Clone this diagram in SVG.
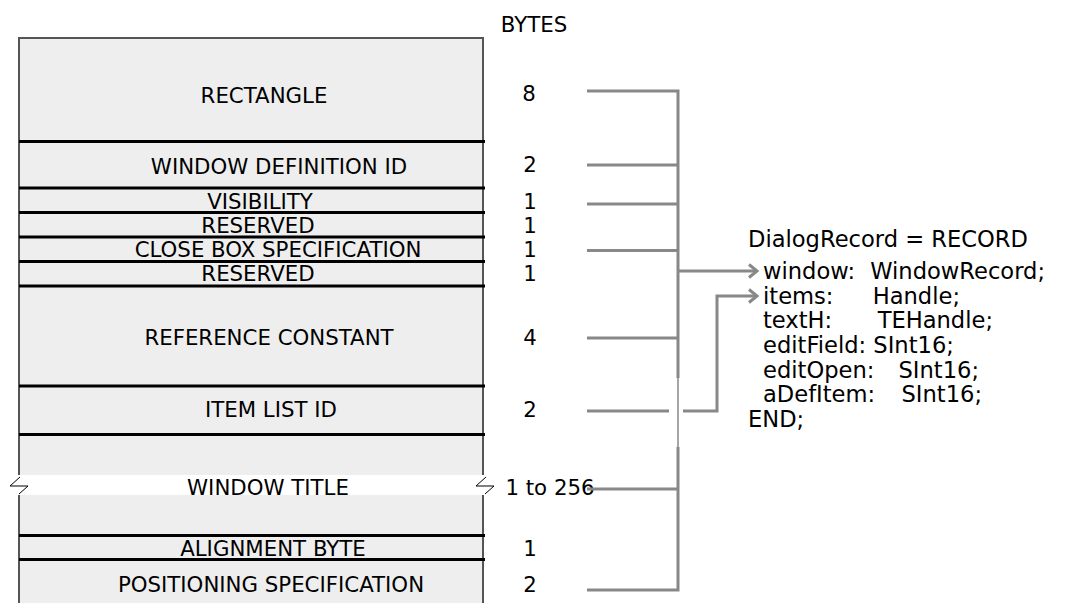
<svg xmlns="http://www.w3.org/2000/svg" width="1078" height="603" viewBox="0 0 1078 603">
<style>
text{font-family:"DejaVu Sans",sans-serif;fill:#000}
.f{font-size:21.3px;text-anchor:middle}
.n{font-size:21.3px;text-anchor:middle}
.c{font-size:22.6px}
.e{font-size:22.6px;text-anchor:end}
.sep{stroke:#000;stroke-width:3}
.con{stroke:#888;stroke-width:3;fill:none}
.brk{stroke:#000;stroke-width:1;fill:none}
</style>
<defs>
<marker id="ah" markerWidth="14" markerHeight="16" refX="11" refY="8" orient="auto" markerUnits="userSpaceOnUse">
<path d="M3,1.5 L11,8 L3,14.5" stroke="#888" stroke-width="3" fill="none"/>
</marker>
</defs>
<g id="record">
<rect x="19" y="38" width="464" height="580" fill="#eeeeee" stroke="#555" stroke-width="2"/>
<rect x="6" y="475" width="494" height="20" fill="#fff"/>
<path class="brk" d="M20,477 L10,486 L28,486 L19,494"/>
<path class="brk" d="M486,477 L476,486 L494,486 L485,494"/>
</g>
<g id="separators">
<line class="sep" x1="19" y1="141.5" x2="485" y2="141.5"/>
<line class="sep" x1="19" y1="188" x2="485" y2="188"/>
<line class="sep" x1="19" y1="212.5" x2="485" y2="212.5"/>
<line class="sep" x1="19" y1="237" x2="485" y2="237"/>
<line class="sep" x1="19" y1="261.5" x2="485" y2="261.5"/>
<line class="sep" x1="19" y1="286" x2="485" y2="286"/>
<line class="sep" x1="19" y1="386" x2="485" y2="386"/>
<line class="sep" x1="19" y1="434.5" x2="485" y2="434.5"/>
<line class="sep" x1="19" y1="535.5" x2="485" y2="535.5"/>
<line class="sep" x1="19" y1="559.5" x2="485" y2="559.5"/>
</g>
<g id="fields">
<text class="f" x="264" y="103">RECTANGLE</text>
<text class="f" x="279" y="174">WINDOW DEFINITION ID</text>
<text class="f" x="260" y="208.5">VISIBILITY</text>
<text class="f" x="258" y="233">RESERVED</text>
<text class="f" x="278" y="257">CLOSE BOX SPECIFICATION</text>
<text class="f" x="258" y="281">RESERVED</text>
<text class="f" x="269" y="345">REFERENCE CONSTANT</text>
<text class="f" x="271" y="417">ITEM LIST ID</text>
<text class="f" x="268" y="495">WINDOW TITLE</text>
<text class="f" x="273" y="556">ALIGNMENT BYTE</text>
<text class="f" x="271" y="592">POSITIONING SPECIFICATION</text>
</g>
<g id="bytes">
<text class="n" x="534" y="32">BYTES</text>
<text class="n" x="529" y="101">8</text>
<text class="n" x="530" y="172">2</text>
<text class="n" x="530" y="208.5">1</text>
<text class="n" x="530" y="233">1</text>
<text class="n" x="530" y="257">1</text>
<text class="n" x="530" y="281">1</text>
<text class="n" x="530" y="345">4</text>
<text class="n" x="530" y="417">2</text>
<text class="n" x="550" y="495">1 to 256</text>
<text class="n" x="530" y="556">1</text>
<text class="n" x="530" y="592">2</text>
</g>
<g id="connectors">
<path class="con" d="M587,91 H678 V378"/>
<path class="con" d="M678,447 V590 H587"/>
<line x1="678" y1="378" x2="678" y2="447" stroke="#888" stroke-width="1.5"/>
<line class="con" x1="587" y1="165" x2="678" y2="165"/>
<line class="con" x1="587" y1="204" x2="678" y2="204"/>
<line class="con" x1="587" y1="250.5" x2="678" y2="250.5"/>
<line class="con" x1="587" y1="338" x2="678" y2="338"/>
<line class="con" x1="587" y1="489" x2="678" y2="489"/>
<line class="con" x1="587" y1="411" x2="669" y2="411"/>
<path class="con" d="M678,271 H757" marker-end="url(#ah)"/>
<path class="con" d="M683,411 H717 V296 H757" marker-end="url(#ah)"/>
</g>
<g id="code">
<text class="c" x="748" y="247">DialogRecord = RECORD</text>
<text class="c" x="763" y="279">window:</text><text class="e" x="1045" y="279">WindowRecord;</text>
<text class="c" x="763" y="304">items:</text><text class="e" x="960" y="304">Handle;</text>
<text class="c" x="763" y="328">textH:</text><text class="e" x="993" y="328">TEHandle;</text>
<text class="c" x="763" y="353">editField: SInt16;</text>
<text class="c" x="763" y="378">editOpen:</text><text class="e" x="979" y="378">SInt16;</text>
<text class="c" x="763" y="402">aDefItem:</text><text class="e" x="982" y="402">SInt16;</text>
<text class="c" x="748" y="427">END;</text>
</g>
</svg>
